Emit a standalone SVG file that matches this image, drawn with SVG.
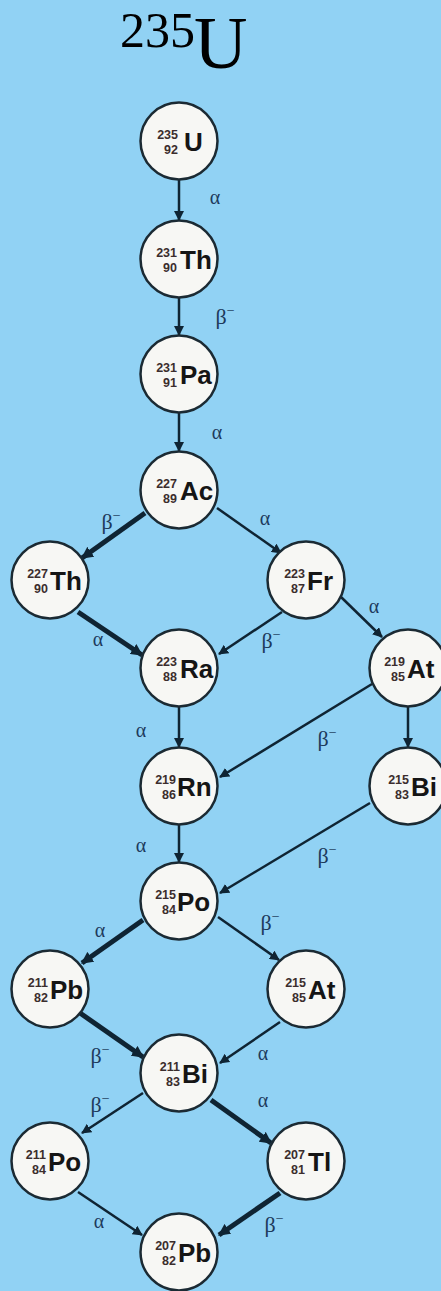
<svg xmlns="http://www.w3.org/2000/svg" width="441" height="1291" viewBox="0 0 441 1291">
<style>
.node circle{fill:#f7f7f4;stroke:#1b2a33;stroke-width:2.5}
.num{font-family:"Liberation Sans",Arial,sans-serif;font-weight:bold;font-size:12.5px;fill:#3b2d2d;text-anchor:end}
.sym{font-family:"Liberation Sans",Arial,sans-serif;font-weight:bold;font-size:26px;fill:#151515}
.edge line{stroke:#0f2433;fill:none}
.thin{stroke-width:2.5;marker-end:url(#ah)}
.thick{stroke-width:5;marker-end:url(#ahb)}
.lbl{font-family:"Liberation Serif","Times New Roman",serif;font-size:20px;fill:#1d3a5c;text-anchor:middle}
.b{font-size:22px}
.sup{font-size:14px}
.title{font-family:"Liberation Serif","Times New Roman",serif;fill:#000}
</style>
<defs>
<marker id="ah" viewBox="0 0 10 10" refX="9" refY="5" markerWidth="10" markerHeight="10" markerUnits="userSpaceOnUse" orient="auto"><path d="M0,0 L10,5 L0,10 z" fill="#0f2433"/></marker>
<marker id="ahb" viewBox="0 0 10 10" refX="9" refY="5" markerWidth="12" markerHeight="12" markerUnits="userSpaceOnUse" orient="auto"><path d="M0,0 L10,5 L0,10 z" fill="#0f2433"/></marker>
</defs>
<rect width="441" height="1291" fill="#91d2f4"/>
<text class="title"><tspan x="120" y="47" font-size="50">235</tspan><tspan x="194" y="68" font-size="74">U</tspan></text>

<g id="connectors" class="edge">
<line class="thin" x1="179" y1="180" x2="179" y2="220"/>
<line class="thin" x1="179" y1="298" x2="179" y2="335"/>
<line class="thin" x1="179" y1="413" x2="179" y2="451"/>
<line class="thick" x1="145" y1="513" x2="82" y2="558"/>
<line class="thin" x1="217" y1="508" x2="281" y2="553"/>
<line class="thick" x1="78" y1="612" x2="142" y2="655"/>
<line class="thin" x1="282" y1="612" x2="219" y2="654"/>
<line class="thin" x1="341" y1="597" x2="382" y2="637"/>
<line class="thin" x1="179" y1="706" x2="179" y2="747"/>
<line class="thin" x1="372" y1="684" x2="220" y2="777"/>
<line class="thin" x1="408" y1="707" x2="408" y2="747"/>
<line class="thin" x1="179" y1="825" x2="179" y2="862"/>
<line class="thin" x1="370" y1="803" x2="220" y2="893"/>
<line class="thick" x1="143" y1="920" x2="82" y2="963"/>
<line class="thin" x1="218" y1="917" x2="279" y2="960"/>
<line class="thick" x1="80" y1="1013" x2="143" y2="1057"/>
<line class="thin" x1="280" y1="1022" x2="220" y2="1063"/>
<line class="thin" x1="143" y1="1093" x2="82" y2="1133"/>
<line class="thick" x1="211" y1="1100" x2="271" y2="1143"/>
<line class="thin" x1="78" y1="1192" x2="142" y2="1235"/>
<line class="thick" x1="280" y1="1193" x2="219" y2="1235"/>
</g>

<g id="labels">
<text class="lbl" x="215" y="204">α</text>
<text class="lbl b" x="225" y="324">β<tspan class="sup" dy="-9">−</tspan></text>
<text class="lbl" x="217" y="439">α</text>
<text class="lbl b" x="111" y="529">β<tspan class="sup" dy="-9">−</tspan></text>
<text class="lbl" x="265" y="525">α</text>
<text class="lbl" x="98" y="646">α</text>
<text class="lbl b" x="271" y="648">β<tspan class="sup" dy="-9">−</tspan></text>
<text class="lbl" x="374" y="613">α</text>
<text class="lbl" x="141" y="737">α</text>
<text class="lbl b" x="327" y="746">β<tspan class="sup" dy="-9">−</tspan></text>
<text class="lbl" x="141" y="852">α</text>
<text class="lbl b" x="327" y="863">β<tspan class="sup" dy="-9">−</tspan></text>
<text class="lbl" x="100" y="937">α</text>
<text class="lbl b" x="270" y="930">β<tspan class="sup" dy="-9">−</tspan></text>
<text class="lbl b" x="100" y="1063">β<tspan class="sup" dy="-9">−</tspan></text>
<text class="lbl" x="263" y="1060">α</text>
<text class="lbl b" x="100" y="1112">β<tspan class="sup" dy="-9">−</tspan></text>
<text class="lbl" x="263" y="1107">α</text>
<text class="lbl" x="99" y="1228">α</text>
<text class="lbl b" x="274" y="1232">β<tspan class="sup" dy="-9">−</tspan></text>
</g>

<g id="U235" class="node"><circle cx="179" cy="141" r="38.5"/><text class="num"><tspan x="178" y="139">235</tspan><tspan x="178" y="154">92</tspan></text><text class="sym" x="184" y="151">U</text></g>
<g id="Th231" class="node"><circle cx="179" cy="259" r="38.5"/><text class="num"><tspan x="177" y="257">231</tspan><tspan x="177" y="272">90</tspan></text><text class="sym" x="180" y="269">Th</text></g>
<g id="Pa231" class="node"><circle cx="179" cy="374" r="38.5"/><text class="num"><tspan x="177" y="372">231</tspan><tspan x="177" y="387">91</tspan></text><text class="sym" x="180" y="384">Pa</text></g>
<g id="Ac227" class="node"><circle cx="179" cy="490" r="38.5"/><text class="num"><tspan x="177" y="488">227</tspan><tspan x="177" y="503">89</tspan></text><text class="sym" x="180" y="500">Ac</text></g>
<g id="Th227" class="node"><circle cx="50" cy="580" r="38.5"/><text class="num"><tspan x="48" y="578">227</tspan><tspan x="48" y="593">90</tspan></text><text class="sym" x="50" y="590">Th</text></g>
<g id="Fr223" class="node"><circle cx="306" cy="580" r="38.5"/><text class="num"><tspan x="305" y="578">223</tspan><tspan x="305" y="593">87</tspan></text><text class="sym" x="307" y="590">Fr</text></g>
<g id="Ra223" class="node"><circle cx="179" cy="668" r="38.5"/><text class="num"><tspan x="177" y="666">223</tspan><tspan x="177" y="681">88</tspan></text><text class="sym" x="180" y="678">Ra</text></g>
<g id="At219" class="node"><circle cx="408" cy="668" r="38.5"/><text class="num"><tspan x="405" y="666">219</tspan><tspan x="405" y="681">85</tspan></text><text class="sym" x="407" y="678">At</text></g>
<g id="Rn219" class="node"><circle cx="179" cy="786" r="38.5"/><text class="num"><tspan x="176" y="784">219</tspan><tspan x="176" y="799">86</tspan></text><text class="sym" x="177" y="796">Rn</text></g>
<g id="Bi215" class="node"><circle cx="408" cy="786" r="38.5"/><text class="num"><tspan x="409" y="784">215</tspan><tspan x="409" y="799">83</tspan></text><text class="sym" x="411" y="796">Bi</text></g>
<g id="Po215" class="node"><circle cx="179" cy="901" r="38.5"/><text class="num"><tspan x="176" y="899">215</tspan><tspan x="176" y="914">84</tspan></text><text class="sym" x="177" y="911">Po</text></g>
<g id="Pb211" class="node"><circle cx="50" cy="989" r="38.5"/><text class="num"><tspan x="48" y="987">211</tspan><tspan x="48" y="1002">82</tspan></text><text class="sym" x="50" y="999">Pb</text></g>
<g id="At215" class="node"><circle cx="306" cy="989" r="38.5"/><text class="num"><tspan x="306" y="987">215</tspan><tspan x="306" y="1002">85</tspan></text><text class="sym" x="308" y="999">At</text></g>
<g id="Bi211" class="node"><circle cx="179" cy="1073" r="38.5"/><text class="num"><tspan x="180" y="1071">211</tspan><tspan x="180" y="1086">83</tspan></text><text class="sym" x="182" y="1083">Bi</text></g>
<g id="Po211" class="node"><circle cx="50" cy="1161" r="38.5"/><text class="num"><tspan x="46" y="1159">211</tspan><tspan x="46" y="1174">84</tspan></text><text class="sym" x="48" y="1171">Po</text></g>
<g id="Tl207" class="node"><circle cx="306" cy="1161" r="38.5"/><text class="num"><tspan x="305" y="1159">207</tspan><tspan x="305" y="1174">81</tspan></text><text class="sym" x="308" y="1171">Tl</text></g>
<g id="Pb207" class="node"><circle cx="179" cy="1252" r="38.5"/><text class="num"><tspan x="176" y="1250">207</tspan><tspan x="176" y="1265">82</tspan></text><text class="sym" x="178" y="1262">Pb</text></g>
</svg>
